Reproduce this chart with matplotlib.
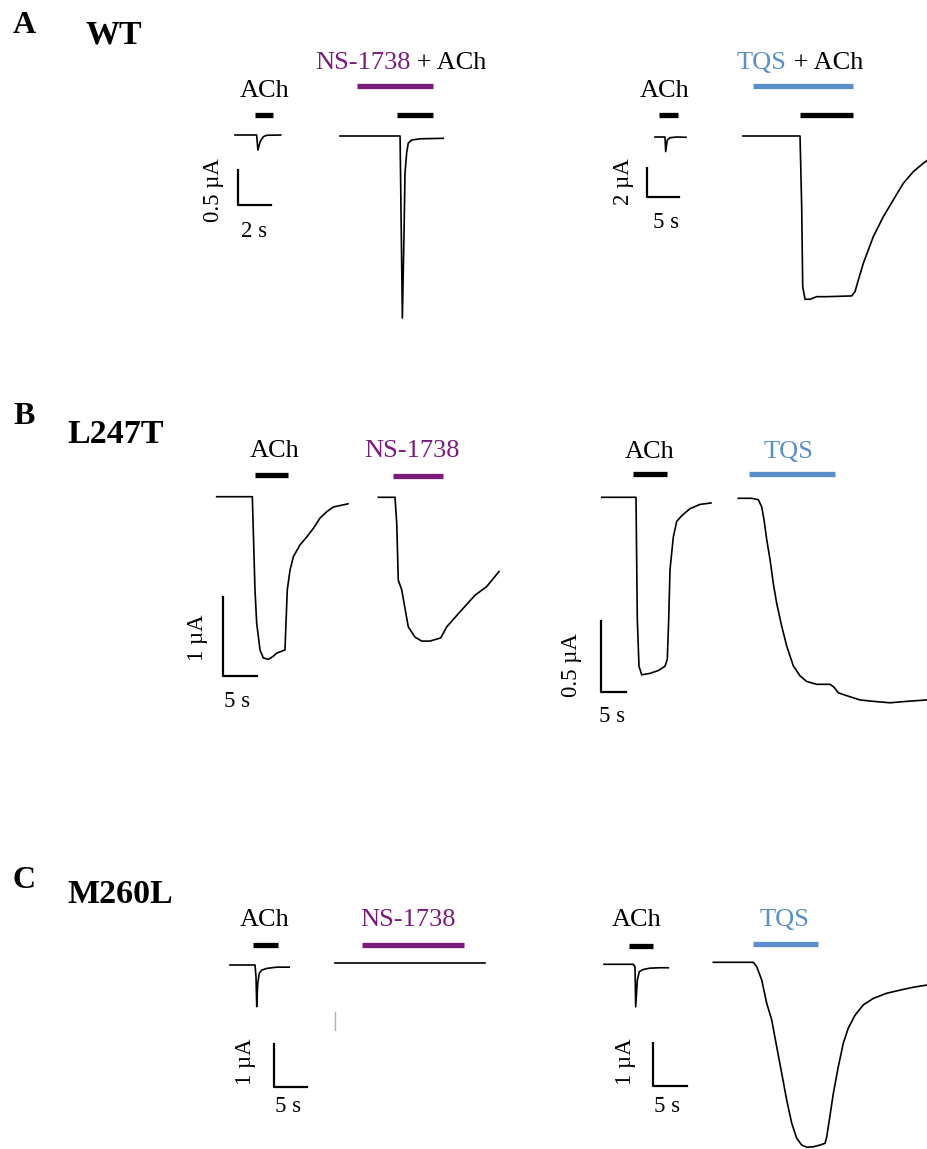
import matplotlib
matplotlib.use('Agg')
import matplotlib.pyplot as plt

# ---- data: time (s) and current (uA) ----
# A, WT
wt_ach_t = [0, 1.31, 1.39, 1.52, 1.72, 1.92, 2.77]
wt_ach_i = [0, 0, -0.214, -0.096, -0.024, -0.004, 0]
wt_ns_t = [0, 3.64, 3.78, 3.88, 3.94, 4.04, 4.14, 4.35, 4.85, 6.26]
wt_ns_i = [0, 0, -2.6, -1.39, -0.53, -0.24, -0.10, -0.057, -0.04, -0.033]
wt_ach2_t = [0, 1.56, 1.67, 1.92, 2.34, 3.39, 4.84]
wt_ach2_i = [0, 0, -1.01, -0.21, -0.05, 0, -0.02]
wt_tqs_t = [0, 8.91, 9.17, 9.33, 9.69, 10.47, 11.52, 13.08, 16.98, 17.5, 18.02,
            18.8, 20.36, 21.92, 23.48, 25.05, 26.61, 28.17, 28.75]
wt_tqs_i = [0, 0, -4.88, -10.39, -11.26, -11.26, -11.08, -11.08, -11.03, -10.74,
            -9.93, -8.78, -6.94, -5.57, -4.41, -3.26, -2.46, -1.88, -1.70]

# B, L247T
l247_ach_t = [0, 5.24, 5.63, 5.88, 6.37, 6.85, 7.59, 8.32, 8.82, 10.04, 10.19, 10.38,
              10.78, 11.27, 12.25, 13.24, 14.22, 15.2, 16.18, 17.16, 19.31]
l247_ach_i = [0, 0, -1.18, -1.60, -1.94, -2.04, -2.06, -2.02, -1.98, -1.94, -1.60, -1.18,
              -0.93, -0.76, -0.61, -0.51, -0.40, -0.27, -0.19, -0.13, -0.09]
l247_ns_t = [0, 2.46, 2.71, 2.94, 3.44, 4.41, 5.4, 6.38, 7.6, 9.18, 10.06, 12.01,
             14.22, 15.94, 17.75]
l247_ns_i = [0, 0, -0.33, -1.05, -1.17, -1.64, -1.77, -1.82, -1.82, -1.78, -1.64, -1.45,
             -1.24, -1.13, -0.94]
l247_ach2_t = [0, 6.86, 7.12, 7.46, 8.0, 9.66, 11.32, 12.66, 13.12, 13.4, 13.66, 14.32,
               15.0, 16.0, 17.66, 19.66, 21.86]
l247_ach2_i = [0, 0, -0.86, -1.19, -1.25, -1.24, -1.22, -1.19, -1.14, -0.86, -0.51, -0.28,
               -0.17, -0.13, -0.08, -0.05, -0.04]
l247_tqs_t = [0, 2.68, 4.0, 4.68, 5.14, 5.68, 6.34, 7.0, 7.68, 8.68, 9.68, 11.0, 12.34,
              13.68, 15.68, 18.34, 19.14, 20.0, 21.68, 24.34, 27.0, 30.34, 33.68, 37.68]
l247_tqs_i = [0, 0, -0.01, -0.06, -0.15, -0.29, -0.43, -0.60, -0.74, -0.90, -1.04, -1.18,
              -1.25, -1.29, -1.31, -1.31, -1.33, -1.37, -1.39, -1.42, -1.43, -1.44, -1.43, -1.42]

# C, M260L
m260_ach_t = [0, 3.79, 3.94, 4.05, 4.2, 4.44, 4.8, 5.56, 7.08, 8.98]
m260_ach_i = [0, 0, -0.27, -0.97, -0.43, -0.19, -0.12, -0.08, -0.05, -0.05]
m260_ns_t = [0, 11.4, 22.7]
m260_ns_i = [0, 0, 0]
m260_ns_gap_i = [-1.13, -1.55]   # faint artefact mark under the NS-1738 trace
m260_ach2_t = [0, 4.31, 4.56, 4.66, 4.9, 5.19, 5.78, 6.76, 8.24, 9.46]
m260_ach2_i = [0, 0, -0.06, -0.99, -0.37, -0.17, -0.12, -0.09, -0.08, -0.08]
m260_tqs_t = [0, 5.88, 6.38, 7.12, 7.85, 8.59, 9.32, 10.06, 10.79, 11.53, 12.26, 13.0,
              13.74, 14.71, 15.69, 16.43, 16.68, 17.06, 17.65, 18.38, 19.12, 19.85,
              20.84, 22.06, 23.53, 25.49, 27.94, 29.41, 31.38]
m260_tqs_i = [0, 0, -0.10, -0.41, -0.95, -1.34, -1.96, -2.58, -3.20, -3.74, -4.09, -4.25,
              -4.30, -4.29, -4.25, -4.21, -4.06, -3.67, -3.05, -2.43, -1.88, -1.53,
              -1.23, -0.99, -0.84, -0.72, -0.63, -0.58, -0.53]

# drug application windows (s, relative to trace start)
wt_ach_bar = (1.21, 2.30)
wt_ns_bar = (1.03, 5.64)
wt_ns_ach_bar = (3.45, 5.64)
wt_ach2_bar = (0.63, 3.59)
wt_tqs_bar = (1.56, 17.19)
wt_tqs_ach_bar = (8.91, 17.19)
l247_ach_bar = (5.63, 10.53)
l247_ns_bar = (2.16, 9.51)
l247_ach2_bar = (6.32, 13.0)
l247_tqs_bar = (2.2, 19.34)
m260_ach_bar = (3.53, 7.32)
m260_ns_bar = (4.04, 19.55)
m260_ach2_bar = (3.72, 7.25)
m260_tqs_bar = (5.88, 15.44)

# scale bars: (seconds, uA, label s, label uA)
scales = [(2, 0.5, '2 s', '0.5 µA'), (5, 2, '5 s', '2 µA'),
          (5, 1, '5 s', '1 µA'), (5, 0.5, '5 s', '0.5 µA'),
          (5, 1, '5 s', '1 µA'), (5, 1, '5 s', '1 µA')]

PURPLE = '#7b1c7b'
BLUE = '#5b8fcc'
W, H = 927, 1149
plt.rcParams['font.family'] = ['Liberation Serif', 'DejaVu Serif']

fig = plt.figure(figsize=(W / 100, H / 100), dpi=100)


def trace_axes(x0, y0, px_s, px_ua):
    # full-figure axes; t=0, I=0 sits at pixel (x0, y0)
    ax = fig.add_axes([0, 0, 1, 1])
    ax.set_xlim(-x0 / px_s, (W - x0) / px_s)
    ax.set_ylim(-(H - y0) / px_ua, y0 / px_ua)
    ax.axis('off')
    ax.patch.set_alpha(0)
    return ax


def bar(ax, win, y, color='black'):
    ax.plot(win, [1 - y / H] * 2, color=color, lw=3.8, solid_capstyle='butt',
            transform=ax.get_xaxis_transform())


def scalebar(ax, t, i, sc):
    ds, da = sc[0], sc[1]
    ax.plot([t, t, t + ds], [i + da, i, i], color='black', lw=1.6)


def txt(x, y, s, color='black', size=19, **kw):
    kw.setdefault('ha', 'center')
    kw.setdefault('va', 'baseline')
    return fig.text(x / W, 1 - y / H, s, color=color, fontsize=size, **kw)


def trace(ax, t, i):
    ax.plot(t, i, color='black', lw=1.2, solid_joinstyle='round')


# ---- A: WT ----
ax = trace_axes(235, 135, 16.5, 70)
trace(ax, wt_ach_t, wt_ach_i)
bar(ax, wt_ach_bar, 115)
scalebar(ax, 0.18, -1.0, scales[0])
ax = trace_axes(340, 136, 16.5, 70)
trace(ax, wt_ns_t, wt_ns_i)
bar(ax, wt_ns_bar, 86, PURPLE)
bar(ax, wt_ns_ach_bar, 115)
ax = trace_axes(655, 137, 6.4, 14.5)
trace(ax, wt_ach2_t, wt_ach2_i)
bar(ax, wt_ach2_bar, 115)
scalebar(ax, -1.25, -4.14, scales[1])
ax = trace_axes(743, 136, 6.4, 14.5)
trace(ax, wt_tqs_t, wt_tqs_i)
bar(ax, wt_tqs_bar, 86, BLUE)
bar(ax, wt_tqs_ach_bar, 115)

# ---- B: L247T ----
ax = trace_axes(216.7, 496.7, 6.8, 79)
trace(ax, l247_ach_t, l247_ach_i)
bar(ax, l247_ach_bar, 475)
scalebar(ax, 0.93, -2.27, scales[2])
ax = trace_axes(378.3, 497.3, 6.8, 79)
trace(ax, l247_ns_t, l247_ns_i)
bar(ax, l247_ns_bar, 476, PURPLE)
ax = trace_axes(601.7, 497.3, 5, 142)
trace(ax, l247_ach2_t, l247_ach2_i)
bar(ax, l247_ach2_bar, 474)
scalebar(ax, -0.14, -1.37, scales[3])
ax = trace_axes(738.3, 498.3, 5, 142)
trace(ax, l247_tqs_t, l247_tqs_i)
bar(ax, l247_tqs_bar, 474, BLUE)

# ---- C: M260L ----
ax = trace_axes(230, 965, 6.6, 43)
trace(ax, m260_ach_t, m260_ach_i)
bar(ax, m260_ach_bar, 945)
scalebar(ax, 6.67, -2.84, scales[4])
ax = trace_axes(335, 963.3, 6.6, 43)
trace(ax, m260_ns_t, m260_ns_i)
ax.plot([0, 0], m260_ns_gap_i, color='#b0b0b0', lw=1)
bar(ax, m260_ns_bar, 945, PURPLE)
ax = trace_axes(604, 964.3, 6.8, 43)
trace(ax, m260_ach2_t, m260_ach2_i)
bar(ax, m260_ach2_bar, 946)
scalebar(ax, 7.21, -2.83, scales[5])
ax = trace_axes(713.3, 962.3, 6.8, 43)
trace(ax, m260_tqs_t, m260_tqs_i)
bar(ax, m260_tqs_bar, 944, BLUE)

# ---- text ----
for x, y, s in [(13, 33, 'A'), (13, 424, 'B'), (13, 888, 'C')]:
    txt(x, y, s, size=23, ha='left', weight='bold')
for x, y, s in [(85, 44, 'WT'), (67, 443, 'L247T'), (67, 903, 'M260L')]:
    txt(x, y, s, size=24.5, ha='left', weight='bold')

# two-colour drug labels: coloured modulator name, then ' + ACh' in black
for x, s, c in [(315, 'NS-1738', PURPLE), (737, 'TQS', BLUE)]:
    t1 = txt(x, 69, s, c, ha='left')
    ax.annotate(' + ACh', xy=(1, 0), xycoords=t1, ha='left', va='bottom',
                fontsize=19, color='black')

for x, y, s, c in [(265, 97, 'ACh', 'black'), (665, 97, 'ACh', 'black'),
                   (275, 457, 'ACh', 'black'), (412, 457, 'NS-1738', PURPLE),
                   (650, 458, 'ACh', 'black'), (789, 458, 'TQS', BLUE),
                   (265, 926, 'ACh', 'black'), (408, 926, 'NS-1738', PURPLE),
                   (637, 926, 'ACh', 'black'), (784, 926, 'TQS', BLUE)]:
    txt(x, y, s, c)

# scale bar labels
for x, y, s in [(254, 237, scales[0][2]), (666, 228, scales[1][2]), (237, 707, scales[2][2]),
                (612, 722, scales[3][2]), (288, 1112, scales[4][2]), (667, 1112, scales[5][2])]:
    txt(x, y, s, size=16.5)
for x, y, s in [(213, 190, scales[0][3]), (624, 182, scales[1][3]), (197, 638, scales[2][3]),
                (572, 665, scales[3][3]), (246, 1062, scales[4][3]), (625, 1062, scales[5][3])]:
    txt(x, y, s, size=16.5, va='center', rotation=90)

fig.savefig('out.png', dpi=100)
